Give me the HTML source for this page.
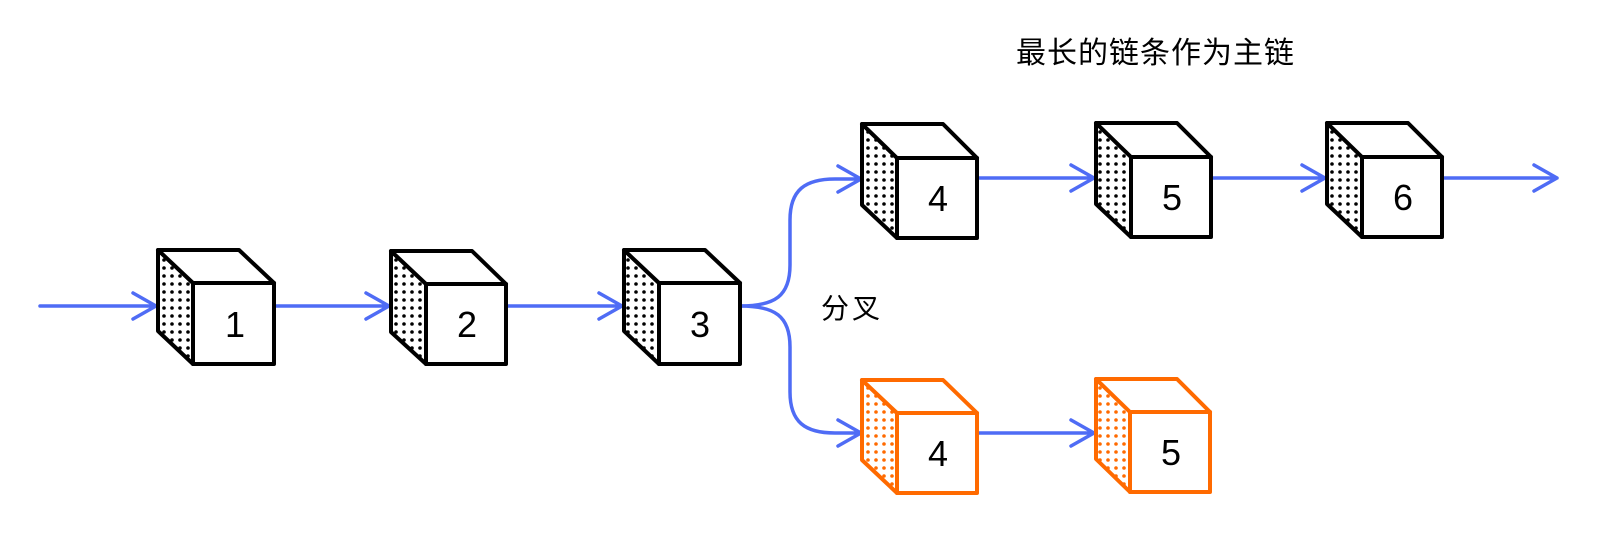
<!DOCTYPE html>
<html><head><meta charset="utf-8"><style>
html,body{margin:0;padding:0;background:#fff;}
svg{display:block;}
text{font-family:"Liberation Sans","Noto Sans CJK SC",sans-serif;}
</style></head><body>
<svg width="1600" height="533" viewBox="0 0 1600 533" xmlns="http://www.w3.org/2000/svg">
<defs>
<pattern id="dk" width="8" height="8" patternUnits="userSpaceOnUse"><circle cx="4" cy="4" r="1.8" fill="#000"/></pattern>
<pattern id="do" width="8" height="8" patternUnits="userSpaceOnUse"><circle cx="4" cy="4" r="1.8" fill="#ff6a00"/></pattern>
</defs>
<g fill="none" stroke="#4f6cf5" stroke-width="3.5" stroke-linecap="round" stroke-linejoin="round">
<path d="M40,306 H156 M133,293 L156,306 L133,319"/>
<path d="M274,306 H389 M366,293 L389,306 L366,319"/>
<path d="M506,306 H622 M599,293 L622,306 L599,319"/>
<path d="M740,306 C775,306 790,296 790,265 L790,220 C790,190 805,179 835,179 L861,179 M838,166 L861,179 L838,192"/>
<path d="M740,306 C775,306 790,316 790,347 L790,392 C790,422 805,433 835,433 L861,433 M838,420 L861,433 L838,446"/>
<path d="M977,178 H1094 M1071,165 L1094,178 L1071,191"/>
<path d="M1211,178 H1325 M1302,165 L1325,178 L1302,191"/>
<path d="M1442,178 H1557 M1534,165 L1557,178 L1534,191"/>
<path d="M977,433 H1094 M1071,420 L1094,433 L1071,446"/>
</g>
<g stroke-width="4" stroke-linejoin="round" fill="#fff">
<g stroke="#000">
<path d="M158,250 L193,283 L193,364 L158,331 Z" fill="url(#dk)"/><path d="M158,250 L239,250 L274,283 L193,283 Z"/><rect x="193" y="283" width="81" height="81"/>
<path d="M391,251 L426,284 L426,364 L391,332 Z" fill="url(#dk)"/><path d="M391,251 L472,251 L506,284 L426,284 Z"/><rect x="426" y="284" width="80" height="80"/>
<path d="M624,250 L659,283 L659,364 L624,331 Z" fill="url(#dk)"/><path d="M624,250 L705,250 L740,283 L659,283 Z"/><rect x="659" y="283" width="81" height="81"/>
<path d="M862,124 L897,158 L897,238 L862,205 Z" fill="url(#dk)"/><path d="M862,124 L943,124 L977,158 L897,158 Z"/><rect x="897" y="158" width="80" height="80"/>
<path d="M1096,123 L1131,157 L1131,237 L1096,204 Z" fill="url(#dk)"/><path d="M1096,123 L1177,123 L1211,157 L1131,157 Z"/><rect x="1131" y="157" width="80" height="80"/>
<path d="M1327,123 L1362,157 L1362,237 L1327,204 Z" fill="url(#dk)"/><path d="M1327,123 L1408,123 L1442,157 L1362,157 Z"/><rect x="1362" y="157" width="80" height="80"/>
</g>
<g stroke="#ff6a00">
<path d="M862,380 L897,413 L897,493 L862,460 Z" fill="url(#do)"/><path d="M862,380 L943,380 L977,413 L897,413 Z"/><rect x="897" y="413" width="80" height="80"/>
<path d="M1096,379 L1130,412 L1130,492 L1096,459 Z" fill="url(#do)"/><path d="M1096,379 L1177,379 L1210,412 L1130,412 Z"/><rect x="1130" y="412" width="80" height="80"/>
</g>
</g>
<g font-size="36" fill="#000" text-anchor="middle">
<text x="235" y="337">1</text>
<text x="467" y="337">2</text>
<text x="700" y="337">3</text>
<text x="938" y="211">4</text>
<text x="1172" y="210">5</text>
<text x="1403" y="210">6</text>
<text x="938" y="466">4</text>
<text x="1171" y="465">5</text>
</g>
<text x="1016" y="63" font-size="30" fill="#000" font-family="'Noto Sans CJK SC',sans-serif" letter-spacing="1">最长的链条作为主链</text>
<text x="821" y="318" font-size="28" fill="#000" font-family="'Noto Sans CJK SC',sans-serif" letter-spacing="3">分叉</text>
</svg>
</body></html>
